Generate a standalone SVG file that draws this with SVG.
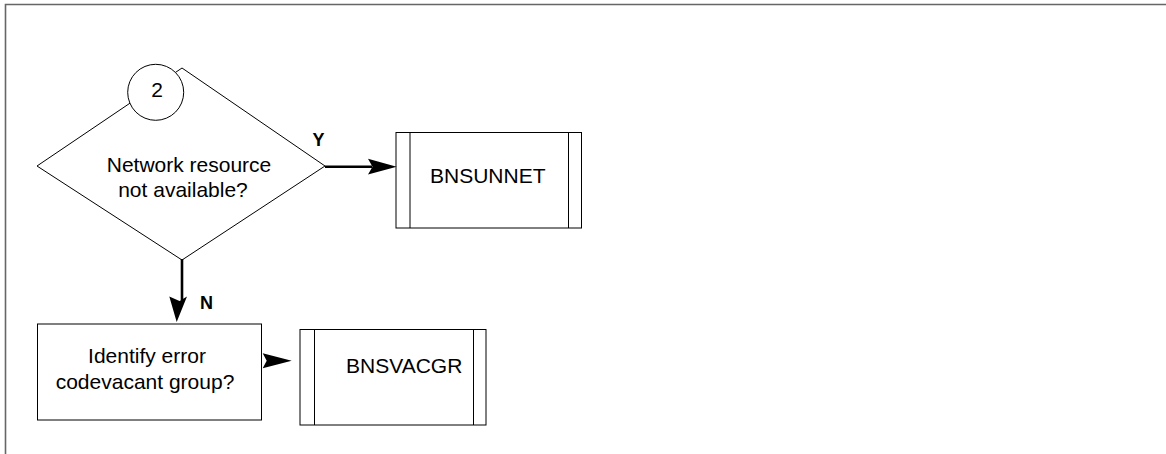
<svg xmlns="http://www.w3.org/2000/svg" width="1166" height="454" viewBox="0 0 1166 454">
<style>
.shape{fill:#fff;stroke:#000;stroke-width:1}
.t{font-family:"Liberation Sans",Arial,sans-serif;font-size:21px;fill:#000}
.b{font-family:"Liberation Sans",Arial,sans-serif;font-size:18px;font-weight:bold;fill:#000}
.conn{stroke:#000;stroke-width:2.6;fill:none}
.head{fill:#000;stroke:none}
</style>
<rect width="1166" height="454" fill="#fff"/>
<path d="M5.5 454 V4.5 H1166" fill="none" stroke="#666" stroke-width="1.6"/>
<g id="decision">
<polygon class="shape" points="37,166 182,68 325,166 182,260"/>
<text class="t" x="189" y="172" text-anchor="middle">Network resource</text>
<text class="t" x="183" y="197" text-anchor="middle">not available?</text>
</g>
<g id="connector-2">
<circle class="shape" cx="155.7" cy="92.3" r="28"/>
<text class="t" x="157" y="97" text-anchor="middle" font-size="20">2</text>
</g>
<g id="bnsunnet">
<rect class="shape" x="396" y="132.5" width="185.5" height="95.5"/>
<line class="shape" x1="410" y1="132.5" x2="410" y2="228"/>
<line class="shape" x1="568.5" y1="132.5" x2="568.5" y2="228"/>
<text class="t" x="430" y="183">BNSUNNET</text>
</g>
<g id="identify">
<rect class="shape" x="37.5" y="324" width="224" height="96"/>
<text class="t" x="147" y="363" text-anchor="middle">Identify error</text>
<text class="t" x="145" y="389" text-anchor="middle">codevacant group?</text>
</g>
<g id="bnsvacgr">
<rect class="shape" x="300" y="329.5" width="186" height="95.5"/>
<line class="shape" x1="314.5" y1="329.5" x2="314.5" y2="425"/>
<line class="shape" x1="473.5" y1="329.5" x2="473.5" y2="425"/>
<text class="t" x="346" y="373">BNSVACGR</text>
</g>
<g id="connectors">
<line class="conn" x1="325" y1="166.7" x2="372" y2="166.7"/>
<path class="head" d="M396.7 166.7 L368 158.8 L372.5 166.7 L368 174.5 Z"/>
<text class="b" x="312.5" y="146">Y</text>
<line class="conn" x1="182" y1="259" x2="182" y2="300"/>
<path class="head" d="M176.7 322 L169.3 296.5 L179.5 301 L187 296.5 Z"/>
<text class="b" x="200" y="308.5">N</text>
<path class="head" d="M291.7 360.8 L262.7 353.3 L266.7 360.8 L262.7 368.3 Z"/>
</g>
</svg>
